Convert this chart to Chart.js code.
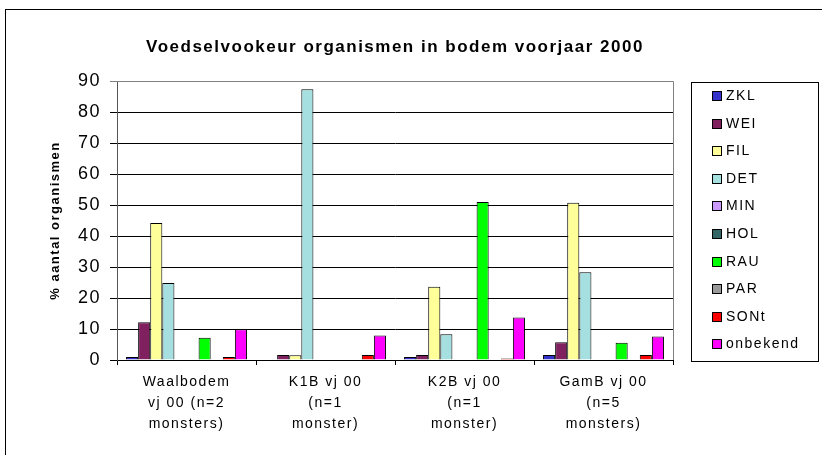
<!DOCTYPE html>
<html>
<head>
<meta charset="utf-8">
<script src="https://cdn.jsdelivr.net/npm/chart.js@4/dist/chart.umd.min.js"></script>
<style>
  html, body { margin: 0; padding: 0; background: #fff; }
  #wrap { width: 822px; height: 455px; }
</style>
</head>
<body>
<div id="wrap"><canvas id="chart" width="822" height="455"></canvas></div>
<script>
// categorieen (monsterplaatsen)
const categories = [
  ['Waalbodem', 'vj 00 (n=2', 'monsters)'],
  ['K1B vj 00', '(n=1', 'monster)'],
  ['K2B vj 00', '(n=1', 'monster)'],
  ['GamB vj 00', '(n=5', 'monsters)']
];

// voedselgroepen, % aantal organismen per categorie
const ZKL      = [1.0, 0, 1.0, 1.6];
const WEI      = [12.2, 1.6, 1.6, 5.7];
const FIL      = [44.2, 1.5, 23.6, 50.7];
const DET      = [24.8, 87.3, 8.3, 28.3];
const MIN      = [0, 0, 0, 0];
const HOL      = [0, 0, 0, 0];
const RAU      = [7.2, 0, 51.0, 5.6];
const PAR      = [0, 0, 0, 0];
const SONt     = [1.0, 1.6, 0.5, 1.6];
const onbekend = [9.9, 7.9, 13.7, 7.6];

const seriesNames = ['ZKL', 'WEI', 'FIL', 'DET', 'MIN', 'HOL', 'RAU', 'PAR', 'SONt', 'onbekend'];
const seriesData  = [ZKL, WEI, FIL, DET, MIN, HOL, RAU, PAR, SONt, onbekend];
const seriesColors = ['#3333CC', '#80205F', '#FFFF99', '#A6DFDF', '#CC99FF',
                      '#336666', '#00FF00', '#999999', '#FF0000', '#FF00FF'];

const yTicks = [0, 10, 20, 30, 40, 50, 60, 70, 80, 90];

const FONT = '"Liberation Sans", Arial, sans-serif';
Chart.defaults.font.family = FONT;
Chart.defaults.color = '#000';

// Rand om grafiek, plotgebied en legenda (Excel-stijl, iets gespatieerde tekst)
const excelFrame = {
  id: 'excelFrame',
  beforeDraw(chart) {
    const c = chart.ctx;
    c.save();
    c.fillStyle = '#fff';
    c.fillRect(0, 0, chart.width, chart.height);
    c.strokeStyle = '#000';
    c.lineWidth = 1;
    c.strokeRect(5.5, 9.5, chart.width + 10, chart.height + 10);
    c.restore();
    c.letterSpacing = '1.5px';
  },
  beforeDatasetsDraw(chart) {
    const c = chart.ctx, a = chart.chartArea;
    c.save();
    c.strokeStyle = '#808080';
    c.lineWidth = 1;
    c.beginPath();
    c.moveTo(a.left, a.top + 0.5);
    c.lineTo(a.right + 0.5, a.top + 0.5);
    c.lineTo(a.right + 0.5, a.bottom);
    c.stroke();
    c.restore();
  },
  afterDraw(chart) {
    const c = chart.ctx;
    const box = { left: 691, top: 82, right: 818, bottom: 361 };
    c.save();
    c.strokeStyle = '#000';
    c.lineWidth = 1;
    c.strokeRect(box.left + 0.5, box.top + 0.5, box.right - box.left, box.bottom - box.top);
    c.font = '14px ' + FONT;
    c.textBaseline = 'middle';
    chart.data.datasets.forEach((ds, i) => {
      const y = Math.round(96 + i * 27.6);
      c.fillStyle = ds.backgroundColor;
      c.fillRect(712, y - 5, 10, 10);
      c.strokeStyle = '#000';
      c.strokeRect(712.5, y - 4.5, 9, 9);
      c.fillStyle = '#000';
      c.fillText(ds.label, 726, y);
    });
    c.restore();
    c.letterSpacing = '0px';
  }
};

new Chart(document.getElementById('chart'), {
  type: 'bar',
  data: {
    labels: categories,
    datasets: seriesNames.map((name, i) => ({
      label: name,
      data: seriesData[i],
      backgroundColor: seriesColors[i],
      borderColor: '#000',
      borderWidth: 1,
      categoryPercentage: 0.87,
      barPercentage: 1.0
    }))
  },
  options: {
    responsive: false,
    animation: false,
    layout: { padding: { left: 0, right: 149, top: 0, bottom: 0 } },
    plugins: {
      legend: { display: false },
      tooltip: { enabled: false },
      title: {
        display: true,
        fullSize: false,
        text: 'Voedselvookeur organismen in bodem voorjaar 2000',
        font: { size: 17, weight: 'bold' },
        color: '#000',
        padding: { top: 37, bottom: 23.6 }
      }
    },
    scales: {
      x: {
        grid: { offset: true, drawOnChartArea: false, drawTicks: true, tickLength: 5, color: '#000' },
        border: { color: '#000' },
        ticks: { font: { size: 14, lineHeight: 1.5 }, padding: 7, maxRotation: 0, autoSkip: false },
        afterFit: s => { s.height = 95; }
      },
      y: {
        min: 0,
        max: 90,
        afterBuildTicks: s => { s.ticks = yTicks.map(v => ({ value: v })); },
        grid: {
          color: ctx => (ctx.tick && ctx.tick.value === 90) ? '#808080' : '#000',
          tickLength: 7
        },
        border: { color: '#555' },
        ticks: { font: { size: 18 }, padding: 9 },
        title: {
          display: true,
          text: '% aantal organismen',
          font: { size: 13, weight: 'bold' },
          padding: { top: 48, bottom: 0 }
        },
        afterFit: s => { s.width = 117; }
      }
    }
  },
  plugins: [excelFrame]
});
</script>
</body>
</html>
